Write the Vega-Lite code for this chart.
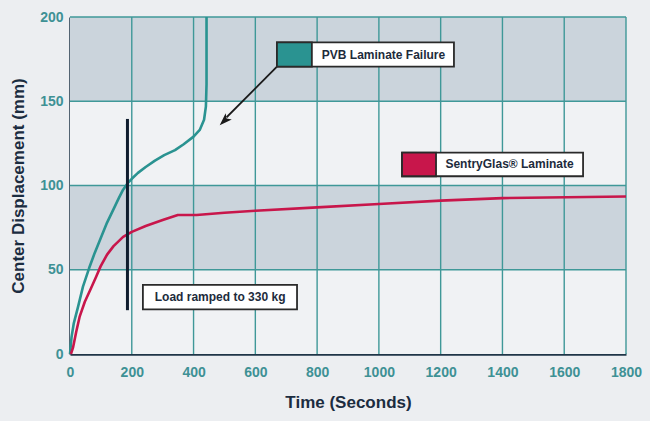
{
  "$schema": "https://vega.github.io/schema/vega-lite/v6.json",
  "width": 556,
  "height": 337,
  "autosize": {"type": "none"},
  "padding": {"left": 70, "top": 17, "right": 24, "bottom": 67},
  "background": "#eceef1",
  "config": {
    "view": {"stroke": null},
    "font": "Liberation Sans"
  },
  "resolve": {"scale": {"fill": "independent", "color": "independent"}},
  "datasets": {
    "bands": [
      {"d0": 0, "d1": 50, "shade": "light"},
      {"d0": 50, "d1": 100, "shade": "dark"},
      {"d0": 100, "d1": 150, "shade": "light"},
      {"d0": 150, "d1": 200, "shade": "dark"}
    ],
    "xgrid": [
      {"t": 200}, {"t": 400}, {"t": 600}, {"t": 800}, {"t": 1000},
      {"t": 1200}, {"t": 1400}, {"t": 1600}, {"t": 1800}
    ],
    "ygrid": [
      {"d": 50}, {"d": 100}, {"d": 150}, {"d": 200}
    ],
    "curves": [
      {"series": "PVB", "i": 0, "t": 0, "d": 0},
      {"series": "PVB", "i": 1, "t": 5, "d": 10},
      {"series": "PVB", "i": 2, "t": 12, "d": 18},
      {"series": "PVB", "i": 3, "t": 26, "d": 28},
      {"series": "PVB", "i": 4, "t": 42, "d": 40},
      {"series": "PVB", "i": 5, "t": 62, "d": 51},
      {"series": "PVB", "i": 6, "t": 80, "d": 60},
      {"series": "PVB", "i": 7, "t": 99, "d": 68.5},
      {"series": "PVB", "i": 8, "t": 120, "d": 78},
      {"series": "PVB", "i": 9, "t": 141, "d": 86},
      {"series": "PVB", "i": 10, "t": 158, "d": 92.5},
      {"series": "PVB", "i": 11, "t": 172, "d": 97.5},
      {"series": "PVB", "i": 12, "t": 186, "d": 101.2},
      {"series": "PVB", "i": 13, "t": 200, "d": 104},
      {"series": "PVB", "i": 14, "t": 220, "d": 107.5},
      {"series": "PVB", "i": 15, "t": 245, "d": 111},
      {"series": "PVB", "i": 16, "t": 275, "d": 114.8},
      {"series": "PVB", "i": 17, "t": 305, "d": 118},
      {"series": "PVB", "i": 18, "t": 340, "d": 121},
      {"series": "PVB", "i": 19, "t": 368, "d": 124.5},
      {"series": "PVB", "i": 20, "t": 400, "d": 129},
      {"series": "PVB", "i": 21, "t": 420, "d": 133},
      {"series": "PVB", "i": 22, "t": 434, "d": 139},
      {"series": "PVB", "i": 23, "t": 440, "d": 147},
      {"series": "PVB", "i": 24, "t": 442, "d": 160},
      {"series": "PVB", "i": 25, "t": 442, "d": 200},
      {"series": "SG", "i": 0, "t": 3, "d": 0},
      {"series": "SG", "i": 1, "t": 10, "d": 4},
      {"series": "SG", "i": 2, "t": 20, "d": 13},
      {"series": "SG", "i": 3, "t": 31, "d": 22},
      {"series": "SG", "i": 4, "t": 48, "d": 31},
      {"series": "SG", "i": 5, "t": 68, "d": 39},
      {"series": "SG", "i": 6, "t": 85, "d": 46},
      {"series": "SG", "i": 7, "t": 99, "d": 52},
      {"series": "SG", "i": 8, "t": 120, "d": 59},
      {"series": "SG", "i": 9, "t": 141, "d": 64},
      {"series": "SG", "i": 10, "t": 172, "d": 69.5},
      {"series": "SG", "i": 11, "t": 200, "d": 72.5},
      {"series": "SG", "i": 12, "t": 245, "d": 76},
      {"series": "SG", "i": 13, "t": 300, "d": 79.5},
      {"series": "SG", "i": 14, "t": 349, "d": 82.5},
      {"series": "SG", "i": 15, "t": 410, "d": 82.5},
      {"series": "SG", "i": 16, "t": 500, "d": 83.8},
      {"series": "SG", "i": 17, "t": 600, "d": 85},
      {"series": "SG", "i": 18, "t": 800, "d": 87},
      {"series": "SG", "i": 19, "t": 1000, "d": 89},
      {"series": "SG", "i": 20, "t": 1200, "d": 91},
      {"series": "SG", "i": 21, "t": 1400, "d": 92.5},
      {"series": "SG", "i": 22, "t": 1800, "d": 93.5}
    ],
    "boxes": [
      {"t0": 670, "t1": 1243, "d0": 170.5, "d1": 185, "kind": "frame"},
      {"t0": 670, "t1": 783, "d0": 170.5, "d1": 185, "kind": "pvb"},
      {"t0": 1075, "t1": 1661, "d0": 105.5, "d1": 119.5, "kind": "frame"},
      {"t0": 1075, "t1": 1185, "d0": 105.5, "d1": 119.5, "kind": "sg"},
      {"t0": 236, "t1": 735, "d0": 26.5, "d1": 41, "kind": "frame"}
    ],
    "labels": [
      {"t": 1015, "d": 177.7, "label": "PVB Laminate Failure"},
      {"t": 1423, "d": 112.5, "label": "SentryGlas® Laminate"},
      {"t": 486, "d": 33.7, "label": "Load ramped to 330 kg"}
    ],
    "arrow": [
      {"t0": 670, "d0": 170.5, "t1": 507, "d1": 140.5}
    ],
    "arrowhead": [
      {"t": 500, "d": 138.5}
    ],
    "loadline": [
      {"t": 186, "d0": 26, "d1": 139.5}
    ]
  },
  "layer": [
    {
      "data": {"name": "bands"},
      "mark": {"type": "rect"},
      "encoding": {
        "x": {"datum": 0, "type": "quantitative", "scale": {"domain": [0, 1800], "nice": false}},
        "x2": {"datum": 1800},
        "y": {"field": "d0", "type": "quantitative", "scale": {"domain": [0, 200], "nice": false}},
        "y2": {"field": "d1"},
        "fill": {"field": "shade", "type": "nominal", "scale": {"domain": ["light", "dark"], "range": ["#f0f2f4", "#cbd4dc"]}, "legend": null}
      }
    },
    {
      "data": {"name": "xgrid"},
      "mark": {"type": "rule", "color": "#3f9898", "strokeWidth": 1.4},
      "encoding": {
        "x": {"field": "t", "type": "quantitative"}
      }
    },
    {
      "data": {"name": "ygrid"},
      "mark": {"type": "rule", "color": "#3f9898", "strokeWidth": 1.4},
      "encoding": {
        "y": {"field": "d", "type": "quantitative"}
      }
    },
    {
      "data": {"name": "curves"},
      "mark": {"type": "line", "strokeWidth": 2.6, "strokeJoin": "round"},
      "encoding": {
        "x": {
          "field": "t", "type": "quantitative",
          "scale": {"domain": [0, 1800], "nice": false},
          "axis": {
            "title": "Time (Seconds)",
            "values": [0, 200, 400, 600, 800, 1000, 1200, 1400, 1600, 1800],
            "format": "d",
            "grid": false, "labelFlush": false,
            "domainColor": "#1f3547", "domainWidth": 2.5,
            "ticks": false, "labelPadding": 11,
            "labelColor": "#3e9195", "labelFont": "Liberation Sans", "labelFontSize": 14, "labelFontWeight": "bold",
            "titleColor": "#1b2c40", "titleFont": "Liberation Sans", "titleFontSize": 17, "titleFontWeight": "bold",
            "titlePadding": 15
          }
        },
        "y": {
          "field": "d", "type": "quantitative",
          "scale": {"domain": [0, 200], "nice": false},
          "axis": {
            "title": "Center Displacement (mm)",
            "values": [0, 50, 100, 150, 200],
            "grid": false, "labelFlush": false,
            "domainColor": "#1f3547", "domainWidth": 2.5,
            "ticks": false, "labelPadding": 7,
            "labelColor": "#3e9195", "labelFont": "Liberation Sans", "labelFontSize": 14, "labelFontWeight": "bold",
            "titleColor": "#1b2c40", "titleFont": "Liberation Sans", "titleFontSize": 17, "titleFontWeight": "bold",
            "titlePadding": 12
          }
        },
        "detail": {"field": "series"},
        "order": {"field": "i", "type": "quantitative"},
        "color": {"field": "series", "type": "nominal", "scale": {"domain": ["PVB", "SG"], "range": ["#2a9391", "#c8164b"]}, "legend": null}
      }
    },
    {
      "data": {"name": "loadline"},
      "mark": {"type": "rule", "color": "#0f1d2e", "strokeWidth": 3},
      "encoding": {
        "x": {"field": "t", "type": "quantitative"},
        "y": {"field": "d0", "type": "quantitative"},
        "y2": {"field": "d1"}
      }
    },
    {
      "data": {"name": "arrow"},
      "mark": {"type": "rule", "color": "#1a1a1a", "strokeWidth": 1.8},
      "encoding": {
        "x": {"field": "t0", "type": "quantitative"},
        "y": {"field": "d0", "type": "quantitative"},
        "x2": {"field": "t1"},
        "y2": {"field": "d1"}
      }
    },
    {
      "data": {"name": "arrowhead"},
      "mark": {"type": "point", "shape": "M0,-1L0.65,0.9L0,0.45L-0.65,0.9Z", "filled": true, "color": "#1a1a1a", "opacity": 1, "size": 180, "angle": 225},
      "encoding": {
        "x": {"field": "t", "type": "quantitative"},
        "y": {"field": "d", "type": "quantitative"}
      }
    },
    {
      "data": {"name": "boxes"},
      "mark": {"type": "rect", "strokeWidth": 1.8, "stroke": "#2a2a2a"},
      "encoding": {
        "x": {"field": "t0", "type": "quantitative"},
        "x2": {"field": "t1"},
        "y": {"field": "d0", "type": "quantitative"},
        "y2": {"field": "d1"},
        "fill": {"field": "kind", "type": "nominal", "scale": {"domain": ["frame", "pvb", "sg"], "range": ["#ffffff", "#2a9391", "#c8164b"]}, "legend": null}
      }
    },
    {
      "data": {"name": "labels"},
      "mark": {"type": "text", "font": "Liberation Sans", "fontSize": 12, "fontWeight": "bold", "color": "#1d2b3c", "align": "center", "baseline": "middle"},
      "encoding": {
        "x": {"field": "t", "type": "quantitative"},
        "y": {"field": "d", "type": "quantitative"},
        "text": {"field": "label"}
      }
    }
  ]
}
